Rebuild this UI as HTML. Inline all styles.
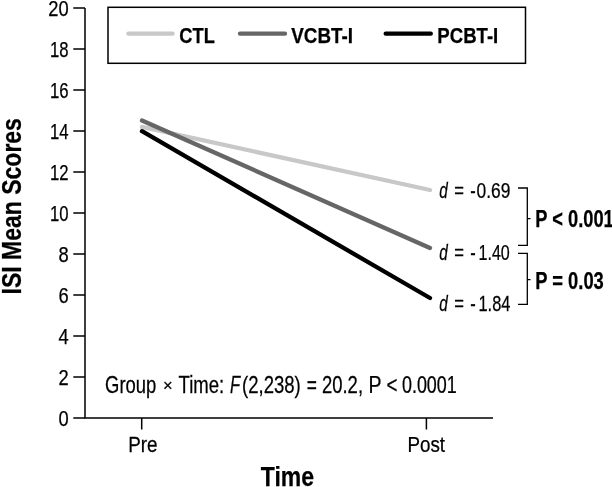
<!DOCTYPE html>
<html><head><meta charset="utf-8">
<style>
html,body{margin:0;padding:0;background:#fff;}
body{width:612px;height:487px;overflow:hidden;}
svg{display:block;filter:grayscale(1);}
text{font-family:"Liberation Sans",sans-serif;fill:#000;stroke:#000;stroke-width:0.25px;}
.b{font-weight:bold;}
.i{font-style:italic;}
</style></head><body>
<svg width="612" height="487" viewBox="0 0 612 487">
<rect width="612" height="487" fill="#fff"/>
<!-- axes -->
<g stroke="#000" stroke-width="1.5" fill="none" stroke-linecap="butt">
<path d="M85 8V418H493"/>
<path d="M73.3 8H85M73.3 49H85M73.3 90H85M73.3 131H85M73.3 172H85M73.3 213H85M73.3 254H85M73.3 295H85M73.3 336H85M73.3 377H85M73.3 418H85"/>
<path d="M141.7 418V429.5M426.4 418V429.5"/>
</g>
<!-- y tick labels -->
<g font-size="22" text-anchor="end">
<text x="68.6" y="16.0" textLength="20.4" lengthAdjust="spacingAndGlyphs">20</text>
<text x="68.6" y="57.0" textLength="18.6" lengthAdjust="spacingAndGlyphs">18</text>
<text x="68.6" y="98.0" textLength="18.6" lengthAdjust="spacingAndGlyphs">16</text>
<text x="68.6" y="139.0" textLength="18.6" lengthAdjust="spacingAndGlyphs">14</text>
<text x="68.6" y="180.0" textLength="18.6" lengthAdjust="spacingAndGlyphs">12</text>
<text x="68.6" y="221.0" textLength="18.6" lengthAdjust="spacingAndGlyphs">10</text>
<text x="68.6" y="262.0" textLength="10.2" lengthAdjust="spacingAndGlyphs">8</text>
<text x="68.6" y="303.0" textLength="10.2" lengthAdjust="spacingAndGlyphs">6</text>
<text x="68.6" y="344.0" textLength="10.2" lengthAdjust="spacingAndGlyphs">4</text>
<text x="68.6" y="385.0" textLength="10.2" lengthAdjust="spacingAndGlyphs">2</text>
<text x="68.6" y="426.0" textLength="10.2" lengthAdjust="spacingAndGlyphs">0</text>
</g>
<!-- legend -->
<rect x="108" y="7.3" width="417.5" height="56" fill="none" stroke="#000" stroke-width="1.5"/>
<g stroke-width="4.3" stroke-linecap="round">
<path d="M128.4 33.7H172.6" stroke="#c8c8c8"/>
<path d="M240 33.7H285" stroke="#666"/>
<path d="M385.7 33.7H430.8" stroke="#000"/>
</g>
<g font-size="22" class="b">
<text x="179.3" y="43" textLength="35.5" lengthAdjust="spacingAndGlyphs">CTL</text>
<text x="291.3" y="43" textLength="61.6" lengthAdjust="spacingAndGlyphs">VCBT-I</text>
<text x="437.3" y="43" textLength="61" lengthAdjust="spacingAndGlyphs">PCBT-I</text>
</g>
<!-- data lines -->
<g stroke-width="4.3" stroke-linecap="round" fill="none">
<path d="M142 126.9L430 190" stroke="#c8c8c8"/>
<path d="M142 120.5L430 248" stroke="#666"/>
<path d="M142 131.2L430 298" stroke="#000"/>
</g>
<!-- d labels -->
<g font-size="22">
<text class="i" transform="translate(439.25 198) scale(0.696 1)">d</text>
<text transform="translate(454.35 198) scale(0.755 1)">=</text>
<text transform="translate(470.24 198) scale(0.748 1)">-</text>
<text transform="translate(476.51 198) scale(0.790 1)">0.69</text>
<text class="i" transform="translate(439.25 259.7) scale(0.696 1)">d</text>
<text transform="translate(454.35 259.7) scale(0.755 1)">=</text>
<text transform="translate(470.24 259.7) scale(0.748 1)">-</text>
<text transform="translate(478.50 259.7) scale(0.731 1)">1.40</text>
<text class="i" transform="translate(439.25 311.3) scale(0.696 1)">d</text>
<text transform="translate(454.35 311.3) scale(0.755 1)">=</text>
<text transform="translate(470.24 311.3) scale(0.748 1)">-</text>
<text transform="translate(478.48 311.3) scale(0.746 1)">1.84</text>
</g>
<!-- brackets -->
<g stroke="#000" stroke-width="1.3" fill="none">
<path d="M518 188H527.3V245.3H518M527.3 218.6H530.5"/>
<path d="M518 253.3H527.3V304.4H518M527.3 279.6H530.5"/>
</g>
<g font-size="23" class="b">
<text x="535.3" y="227.3" textLength="78.5" lengthAdjust="spacingAndGlyphs">P &lt; 0.001</text>
<text x="535.3" y="288.8" textLength="68.5" lengthAdjust="spacingAndGlyphs">P = 0.03</text>
</g>
<!-- bottom text -->
<g font-size="23">
<text transform="translate(105.10 393.2) scale(0.802 1)">Group</text>
<text font-size="16.5" stroke-width="0.8" transform="translate(163 391)">×</text>
<text transform="translate(178.60 393.2) scale(0.806 1)">Time:</text>
<text class="i" transform="translate(229.94 393.2) scale(0.719 1)">F</text>
<text transform="translate(241.99 393.2) scale(0.807 1)">(2,238)</text>
<text transform="translate(306.84 393.2) scale(0.757 1)">=</text>
<text transform="translate(321.90 393.2) scale(0.804 1)">20.2,</text>
<text transform="translate(368.52 393.2) scale(0.848 1)">P</text>
<text transform="translate(386.38 393.2) scale(0.817 1)">&lt;</text>
<text transform="translate(401.91 393.2) scale(0.781 1)">0.0001</text>
</g>
<g font-size="22">
<text transform="translate(128.20 451.7) scale(0.857 1)">Pre</text>
<text transform="translate(407.50 451.7) scale(0.854 1)">Post</text>
</g>
<text x="260.8" y="485.7" font-size="27" class="b" textLength="53.2" lengthAdjust="spacingAndGlyphs">Time</text>
<text transform="translate(21 294.4) rotate(-90)" font-size="27" class="b" textLength="176.3" lengthAdjust="spacingAndGlyphs">ISI Mean Scores</text>
</svg>
</body></html>
